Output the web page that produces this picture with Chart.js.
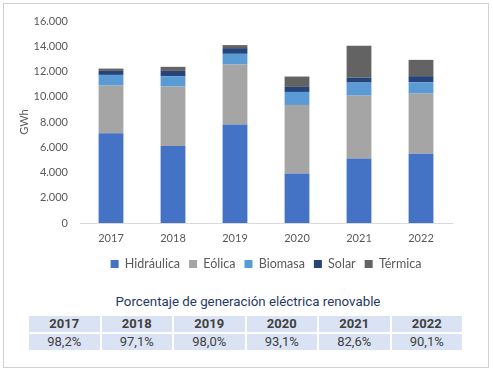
<!DOCTYPE html>
<html>
<head>
<meta charset="utf-8">
<script src="https://cdn.jsdelivr.net/npm/chart.js@4"></script>
<style>
  html, body { margin: 0; padding: 0; background: #fff; }
  body { width: 493px; height: 370px; position: relative; overflow: hidden; }
  #frame { position: absolute; left: 3px; top: 3px; width: 484px; height: 363px; border: 1px solid #d0d0d0; }
  #chartBox { position: absolute; left: 0; top: 0; width: 493px; height: 285px; }
  #title { position: absolute; left: 0; width: 496px; top: 294px; text-align: center;
    font-family: Roboto, sans-serif; font-size: 13.3px; color: #1f3864; }
  #pct { position: absolute; left: 27px; top: 314px; border-collapse: separate; border-spacing: 2px;
    font-family: Roboto, sans-serif; font-size: 13px; color: #404040; }
  #pct td { background: #dae3f3; width: 70.5px; height: 16px; padding: 0; text-align: center; line-height: 16px; }
  #pct tr:first-child td { font-weight: bold; }
</style>
</head>
<body>
<div id="frame"></div>
<div id="chartBox"><canvas id="myChart"></canvas></div>
<div id="title">Porcentaje de generación eléctrica renovable</div>
<table id="pct"><tr id="yearRow"></tr><tr id="pctRow"></tr></table>
<script>
const years = ["2017", "2018", "2019", "2020", "2021", "2022"];
const hidraulica = [7100, 6090, 7810, 3920, 5110, 5480];
const eolica = [3780, 4710, 4740, 5430, 4980, 4770];
const biomasa = [850, 830, 850, 1030, 1030, 900];
const solar = [320, 420, 450, 400, 400, 480];
const termica = [180, 320, 240, 820, 2520, 1290];
const renovable = ["98,2%", "97,1%", "98,0%", "93,1%", "82,6%", "90,1%"];

// tabla de porcentajes
const yearRow = document.getElementById('yearRow');
const pctRow = document.getElementById('pctRow');
years.forEach((y, i) => {
  yearRow.insertCell().textContent = y;
  pctRow.insertCell().textContent = renovable[i];
});

const font = { family: 'Lato, sans-serif', size: 11 };

const ctx = document.getElementById('myChart').getContext('2d');
const chart = new Chart(ctx, {
  type: 'bar',
  data: {
    labels: years,
    datasets: [
      { label: 'Hidráulica', data: hidraulica, backgroundColor: '#4472c4' },
      { label: 'Eólica', data: eolica, backgroundColor: '#a5a5a5' },
      { label: 'Biomasa', data: biomasa, backgroundColor: '#5b9bd5' },
      { label: 'Solar', data: solar, backgroundColor: '#264478' },
      { label: 'Térmica', data: termica, backgroundColor: '#636363' },
    ]
  },
  options: {
    responsive: true,
    maintainAspectRatio: false,
    animation: false,
    layout: { padding: { left: 14, right: 41, top: 21, bottom: 4.75 } },
    datasets: { bar: { barPercentage: 0.4, categoryPercentage: 1 } },
    scales: {
      x: {
        stacked: true,
        grid: { display: false, drawTicks: false },
        border: { display: true, color: '#d9d9d9' },
        ticks: { color: '#595959', font: font, padding: 9 },
        afterFit: s => { s.height = 25.75; }
      },
      y: {
        stacked: true,
        min: 0, max: 16000,
        grid: { display: false, drawTicks: false },
        border: { display: false },
        ticks: {
          stepSize: 2000, color: '#595959', font: font, padding: 12,
          callback: v => v.toString().replace(/\B(?=(\d{3})+(?!\d))/g, '.')
        },
        title: { display: true, text: 'GWh', color: '#595959', font: font, padding: 4 },
        afterFit: s => { s.width = 66; }
      }
    },
    plugins: {
      legend: {
        position: 'bottom',
        fullSize: false,
        labels: { boxWidth: 8, boxHeight: 8, color: '#595959', font: { family: 'Lato, sans-serif', size: 12.5 }, padding: 9 }
      },
      tooltip: { enabled: false }
    }
  }
});
</script>
</body>
</html>
